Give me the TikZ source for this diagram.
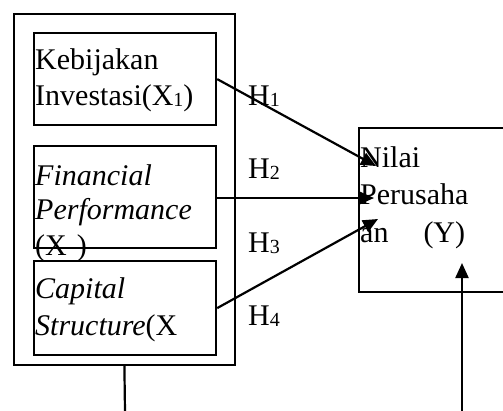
\documentclass[tikz,border=0pt]{standalone}
\usepackage{fontspec}
\setmainfont{Liberation Serif}
\usetikzlibrary{arrows.meta}
\newcommand{\mysub}[1]{\raisebox{-1.5pt}{\fontsize{20}{20}\selectfont #1}}
\begin{document}
\begin{tikzpicture}[x=1pt,y=-1pt,
  boxline/.style={draw,line width=2.2pt,rectangle,inner sep=0pt,anchor=north west},
  outerline/.style={draw,line width=1.8pt,rectangle,inner sep=0pt,anchor=north west},
  lbl/.style={anchor=base west,inner sep=0pt,font=\fontsize{30}{36}\selectfont},
  conn/.style={line width=2.2pt},
  arr/.style={conn,-{Triangle[length=15pt,width=13pt]}}]
\clip (0,0) rectangle (503,410);
% boxes
\node[outerline, minimum width=221pt, minimum height=351pt] (outer) at (13,13) {};
\node[boxline, minimum width=182pt, minimum height=92pt] (box1) at (33,32) {};
\node[boxline, minimum width=182pt, minimum height=102pt] (box2) at (33,145) {};
\node[boxline, minimum width=182pt, minimum height=94pt] (box3) at (33,260) {};
\node[boxline, minimum width=170pt, minimum height=164pt] (ybox) at (358,127) {};
% texts
\node[lbl] (k1) at (35,69) {Kebijakan};
\node[lbl] (k2) at (35,105) {Investasi(X\mysub{1})};
\node[lbl] (f1) at (35,185) {\itshape Financial};
\node[lbl] (f2) at (35,219) {\itshape Performance};
\node[lbl] (f3) at (35,255) {(X\,\,)};
\node[lbl] (c1) at (35,298) {\itshape Capital};
\node[lbl] (c2) at (35,335) {\textit{Structure}(X};
\node[lbl] (h1) at (248,105) {H\mysub{1}};
\node[lbl] (h2) at (248,178) {H\mysub{2}};
\node[lbl] (h3) at (248,252) {H\mysub{3}};
\node[lbl] (h4) at (248,325) {H\mysub{4}};
\node[lbl] (y1) at (360,167) {Nilai};
\node[lbl] (y2) at (360,204) {Perusaha};
\node[lbl] (y3) at (360,242) {an\hspace{35pt}(Y)};
% connectors
\coordinate (t1) at (376,166);
\coordinate (t2) at (374,198);
\coordinate (t3) at (378,219);
\coordinate (b1) at (125,412);
\coordinate (b2) at (462,412);
\coordinate (t4) at (462,263);
\draw[arr] (box1.east) -- (t1);
\draw[arr] (box2.east |- t2) -- (t2);
\draw[arr] (box3.east) -- (t3);
\draw[conn] (outer.south) -- (b1);
\draw[arr] (b2) -- (t4);
\end{tikzpicture}
\end{document}
